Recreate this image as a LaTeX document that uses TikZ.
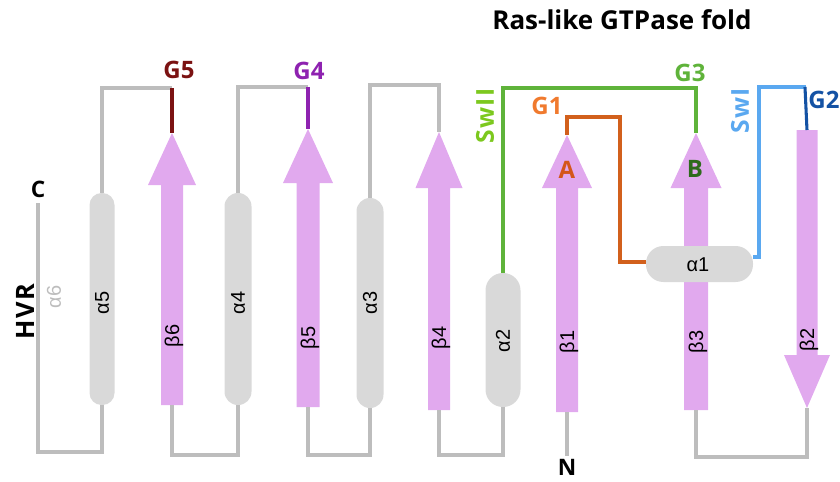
\documentclass[tikz,border=0pt]{standalone}
\usepackage{fontspec}
\setmainfont{Open Sans}
\newfontfamily\lblfont{Liberation Sans}
\begin{document}
\begin{tikzpicture}[x=0.75pt,y=-0.75pt,
  strandfill/.style={fill=strandc,draw=none},
  helix/.style={fill=helixc,draw=none,rectangle,inner sep=0pt},
  loop/.style={draw=loopc,line width=2.3pt},
  glabel/.style={font=\bfseries\fontsize{18}{18}\selectfont,inner sep=0pt},
  sslabel/.style={font=\lblfont\fontsize{15}{15}\selectfont,rotate=90,inner sep=0pt},
  swlabel/.style={font=\bfseries\fontsize{18.5}{18.5}\selectfont\addfontfeature{LetterSpace=5},rotate=90,inner sep=0pt},
  termlabel/.style={font=\bfseries\fontsize{17}{17}\selectfont,inner sep=0pt,text=black}
]
\definecolor{strandc}{HTML}{E1A9EE}
\definecolor{helixc}{HTML}{D9D9D9}
\definecolor{loopc}{HTML}{BDBDBD}
\definecolor{gfive}{HTML}{7B1212}
\definecolor{gfour}{HTML}{8E22B0}
\definecolor{gthree}{HTML}{5FB33A}
\definecolor{swtwo}{HTML}{7CC81E}
\definecolor{gone}{HTML}{F07A2E}
\definecolor{goneline}{HTML}{D2601C}
\definecolor{alabel}{HTML}{D4561A}
\definecolor{blabel}{HTML}{2E6A1C}
\definecolor{swone}{HTML}{5AA8F0}
\definecolor{gtwo}{HTML}{1452A4}
\useasboundingbox (0,0) rectangle (840,482);

% up strands: x, tip, base, bottom, half shaft, half head
\newcommand\upstrand[7]{%
  \fill[strandfill] (#2-#6,#5) -- (#2-#6,#4) -- (#2-#7,#4) -- (#2,#3) -- (#2+#7,#4) -- (#2+#6,#4) -- (#2+#6,#5) -- cycle;
  \coordinate (#1tip) at (#2,#3);
  \coordinate (#1bot) at (#2,#5);}

\upstrand{b6}{172}{133}{185}{405}{11}{24}
\upstrand{b5}{308}{129}{183}{407}{11.5}{25}
\upstrand{b4}{439}{132}{188}{410}{11}{23.5}
\upstrand{b1}{567}{135}{188}{412}{11}{25}
\upstrand{b3}{696}{133}{188}{410}{12}{25.5}
% down strand b2
\fill[strandfill] (796.5,130) -- (817.5,130) -- (817.5,355) -- (830,355) -- (807,408) -- (784,355) -- (796.5,355) -- cycle;
\coordinate (b2top) at (807,130);
\coordinate (b2tip) at (807,408);

% helices
\node[helix,minimum width=25*0.75pt,minimum height=212*0.75pt,rounded corners=9pt] (a5) at (102,299) {};
\node[helix,minimum width=27*0.75pt,minimum height=212*0.75pt,rounded corners=10pt] (a4) at (238,299) {};
\node[helix,minimum width=27*0.75pt,minimum height=210*0.75pt,rounded corners=10pt] (a3) at (370,303) {};
\node[helix,minimum width=35*0.75pt,minimum height=134*0.75pt,rounded corners=13pt] (a2) at (503,340) {};

% connectors (gray)
\coordinate (cterm) at (38,203);
\coordinate (nterm) at (567,456);
\draw[loop] (cterm) -- (38,452) -- (102,452) -- (a5.south);
\draw[loop] (a5.north) -- (102,88) -- (172,88);
\draw[loop] (b6bot) -- (172,455) -- (238,455) -- (a4.south);
\draw[loop] (a4.north) -- (238,87) -- (308,87);
\draw[loop] (b5bot) -- (308,455) -- (370,455) -- (a3.south);
\draw[loop,line join=miter] (a3.north) -- (370,85) -- (439,85) -- (b4tip);
\draw[loop] (b4bot) -- (439,455) -- (503,455) -- (a2.south);
\draw[loop] (b2tip) -- (807,457) -- (696,457) -- (b3bot);
\draw[loop] (b1bot) -- (nterm);

% coloured motifs
\draw[gfive,line width=2.3pt] (172,88) -- (b6tip);
\draw[gfour,line width=2.3pt] (308,87) -- (b5tip);
\draw[gthree,line width=2.3pt] (a2.north) -- (503,88) -- (696,88) -- (b3tip);

% alpha1 horizontal helix (over b3)
\node[helix,minimum width=107*0.75pt,minimum height=36*0.75pt,rounded corners=13pt] (a1) at (699.5,264) {};
\draw[goneline,line width=2.3pt] (b1tip) -- (567,117) -- (620,117) -- (620,262) -- (a1.west |- 0,262);
\draw[swone,line width=2.3pt] (a1.east |- 0,257) -- (759,257) -- (759,87) -- (806,87);
\draw[gtwo,line width=2.3pt] (805,87) -- (b2top);

% helix / strand labels
\node[sslabel] (la5) at (102,303) {α5};
\node[sslabel] (la4) at (238,303) {α4};
\node[sslabel] (la3) at (370,303) {α3};
\node[sslabel] (la2) at (503,341) {α2};
\node[font=\lblfont\fontsize{15}{15}\selectfont,inner sep=0pt] (la1) at (698,265) {α1};
\node[sslabel] (lb6) at (174,336) {β6};
\node[sslabel] (lb5) at (310,338) {β5};
\node[sslabel] (lb4) at (441,338) {β4};
\node[sslabel] (lb1) at (569,342) {β1};
\node[sslabel] (lb3) at (698,342) {β3};
\node[sslabel] (lb2) at (809,340) {β2};
\node[sslabel,text=loopc] (la6) at (54,297) {α6};

% motif labels
\node[glabel,text=gfive] (g5) at (179,70) {G5};
\node[glabel,text=gfour] (g4) at (309,71) {G4};
\node[glabel,text=gthree] (g3) at (690,73) {G3};
\node[glabel,text=gone] (g1) at (547,106) {G1};
\node[glabel,text=gtwo] (g2) at (824,100) {G2};
\node[swlabel,text=swtwo] (sw2) at (485,116) {SwII};
\node[swlabel,text=swone] (sw1) at (740,111) {SwI};
\node[glabel,text=alabel] (la) at (567,170) {A};
\node[glabel,text=blabel] (lb) at (695,169) {B};

% termini
\node[termlabel] (c) at (38,189) {C};
\node[termlabel] (n) at (567,467) {N};
\node[termlabel,rotate=90,font=\bfseries\fontsize{19}{19}\selectfont\addfontfeature{LetterSpace=6}] (hvr) at (25,312) {HVR};

% title
\node[font=\bfseries\fontsize{19.5}{19.5}\selectfont,inner sep=0pt] (title) at (622,20) {Ras-like GTPase fold};
\end{tikzpicture}
\end{document}
